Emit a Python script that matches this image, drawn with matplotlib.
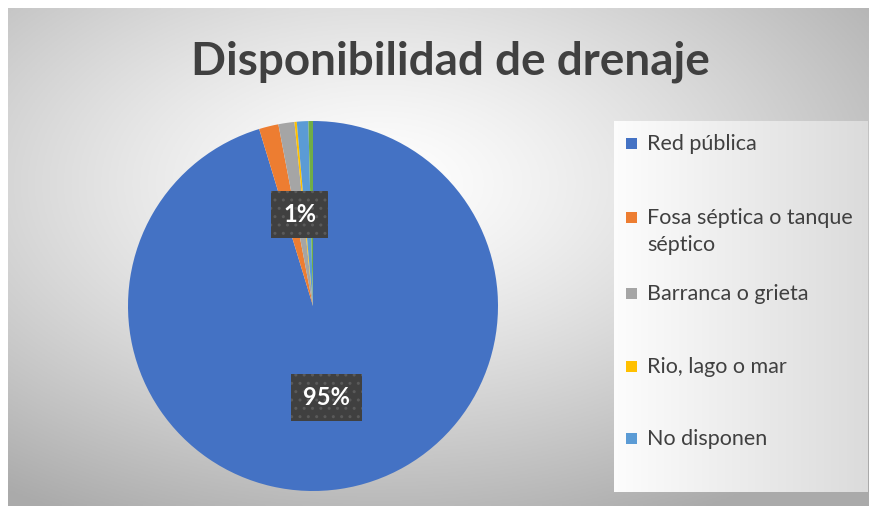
import numpy as np
import matplotlib.pyplot as plt
from matplotlib.patches import Rectangle

# Data
labels = ['Red pública', 'Fosa séptica o tanque\nséptico', 'Barranca o grieta',
          'Rio, lago o mar', 'No disponen', 'Otro']
values = [95.3, 1.7, 1.4, 0.2, 1.0, 0.4]
colors = ['#4472C4', '#ED7D31', '#A5A5A5', '#FFC000', '#5B9BD5', '#70AD47']
shown_labels = [0, 2]      # slices that carry a data label
legend_items = 5           # last slice is not in the legend

W, H = 876, 514
fig = plt.figure(figsize=(W / 100, H / 100), dpi=100)
fig.patch.set_facecolor('white')

def fx(px):
    return px / W

def fy(py):
    return 1 - py / H

# chart area background, radial gradient
bg = fig.add_axes([fx(8), fy(506), fx(861), (506 - 8) / H])
yy, xx = np.mgrid[0:200, 0:350]
d = np.sqrt(((xx - 150) / 350) ** 2 + ((yy - 70) / 200) ** 2)
shade = 1.0 - 0.33 * np.clip(d / 0.75, 0, 1) ** 1.3
bg.imshow(np.dstack([shade] * 3), aspect='auto', extent=[0, 1, 0, 1])
bg.set_axis_off()

# legend background, light horizontal gradient
lb = fig.add_axes([fx(614), fy(492), fx(868 - 614), (492 - 121) / H])
g = np.linspace(0.99, 0.86, 200)[None, :].repeat(10, axis=0)
lb.imshow(np.dstack([g] * 3), aspect='auto', extent=[0, 1, 0, 1])
lb.set_axis_off()

# pie
ax = fig.add_axes([fx(313 - 185), fy(306 + 185), fx(370), 370 / H])
wedges, texts, autotexts = ax.pie(values, colors=colors, startangle=90,
                                  counterclock=False, autopct='%1.0f%%',
                                  pctdistance=0.5,
                                  wedgeprops=dict(linewidth=0),
                                  textprops=dict(family='Lato', fontweight='bold',
                                                 fontsize=17))
for i, t in enumerate(autotexts):
    if i not in shown_labels:
        t.set_visible(False)
        continue
    t.set_color('white')
    t.set_bbox(dict(boxstyle='square,pad=0.5', facecolor='#404040',
                    edgecolor='#5a5a5a', linewidth=0, hatch='..'))
ax.set_xlim(-1, 1)
ax.set_ylim(-1, 1)

# title
fig.text(fx(450), fy(62), 'Disponibilidad de drenaje', ha='center', va='center',
         fontsize=33, fontweight='bold', color='#404040', family='Lato')

# legend
ys = [143, 217, 293, 366, 438]
for i in range(legend_items):
    fig.patches.append(Rectangle((fx(626), fy(ys[i] + 6)), fx(11), 11 / H,
                                 facecolor=colors[i], edgecolor='none',
                                 transform=fig.transFigure, figure=fig))
    fig.text(fx(647), fy(ys[i] - 9), labels[i], ha='left', va='top',
             fontsize=15.5, color='#404040', family='Lato', linespacing=1.45)

plt.savefig('out.png', dpi=100)
